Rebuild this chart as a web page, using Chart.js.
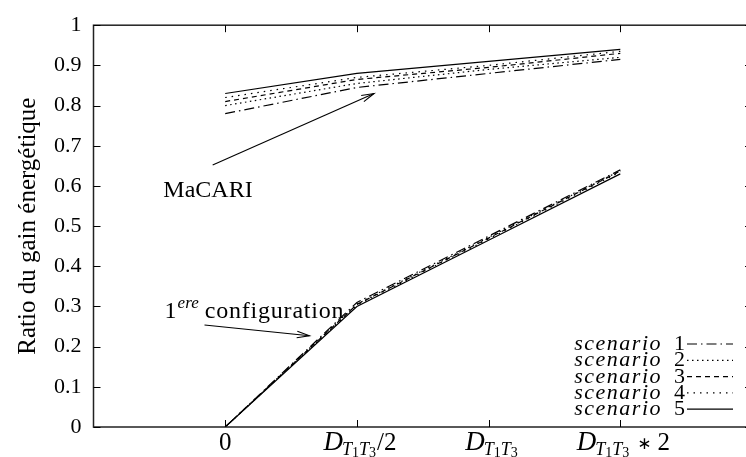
<!DOCTYPE html>
<html><head><meta charset="utf-8">
<script src="https://cdn.jsdelivr.net/npm/chart.js@4"></script>
<style>html,body{margin:0;padding:0;background:#fff;overflow:hidden}#wrap{width:760px;height:457px}</style>
</head><body><div id="wrap"><canvas id="c" width="760" height="457"></canvas></div>
<script>
// ---- data ----
const xPositions = [0, 1, 2, 3];
const xTickLabels = ['0', 'D_T1T3/2', 'D_T1T3', 'D_T1T3 * 2'];
const yTickLabels = ['0','0.1','0.2','0.3','0.4','0.5','0.6','0.7','0.8','0.9','1'];
const scenarioNames = ['scenario 1','scenario 2','scenario 3','scenario 4','scenario 5'];
// MaCARI curves
const macari1 = [0.78, 0.845, 0.880, 0.915];
const macari2 = [0.80, 0.855, 0.890, 0.920];
const macari3 = [0.81, 0.865, 0.895, 0.930];
const macari4 = [0.82, 0.870, 0.900, 0.935];
const macari5 = [0.83, 0.880, 0.910, 0.940];
// 1ere configuration curves
const config1 = [0, 0.310, 0.475, 0.640];
const config2 = [0, 0.306, 0.472, 0.638];
const config3 = [0, 0.305, 0.470, 0.637];
const config4 = [0, 0.303, 0.468, 0.635];
const config5 = [0, 0.300, 0.465, 0.630];

const dashes = [[10,4,1.5,4],[1.5,3.5],[5,4],[1.5,5],[]];
const macari = [macari1, macari2, macari3, macari4, macari5];
const config = [config1, config2, config3, config4, config5];

const FONT = 'Liberation Serif';
const toPts = arr => arr.map((v, i) => ({x: xPositions[i], y: v}));

const datasets = [];
for (let i = 0; i < 5; i++) {
  datasets.push({label: scenarioNames[i], data: toPts(macari[i]), borderColor: '#000', borderWidth: 1.2,
    borderDash: dashes[i], pointRadius: 0, fill: false, tension: 0});
}
for (let i = 0; i < 5; i++) {
  datasets.push({label: scenarioNames[i] + ' (1ere)', data: toPts(config[i]), borderColor: '#000', borderWidth: 1.2,
    borderDash: dashes[i], pointRadius: 0, fill: false, tension: 0});
}

function arrow(ctx, x1, y1, x2, y2) {
  ctx.save();
  ctx.strokeStyle = '#000'; ctx.lineWidth = 1.1; ctx.setLineDash([]);
  ctx.beginPath(); ctx.moveTo(x1, y1); ctx.lineTo(x2, y2); ctx.stroke();
  const a = Math.atan2(y2 - y1, x2 - x1), L = 13, w = 0.26;
  ctx.beginPath();
  ctx.moveTo(x2 - L * Math.cos(a - w), y2 - L * Math.sin(a - w));
  ctx.lineTo(x2, y2);
  ctx.lineTo(x2 - L * Math.cos(a + w), y2 - L * Math.sin(a + w));
  ctx.stroke();
  ctx.restore();
}

function drawDLabel(ctx, label, cx, base) {
  ctx.save();
  ctx.fillStyle = '#000'; ctx.textBaseline = 'alphabetic'; ctx.textAlign = 'left';
  if (!label.startsWith('D_T1T3')) {
    ctx.font = `25px "${FONT}"`;
    const w = ctx.measureText(label).width;
    ctx.fillText(label, cx - w / 2, base);
    ctx.restore(); return;
  }
  const rest = label.slice(6);
  const parts = [
    {t: 'D', f: `italic 27px "${FONT}"`, dy: 0, gap: 0},
    {t: 'T', f: `italic 18px "${FONT}"`, dy: 5, gap: -1},
    {t: '1', f: `14px "${FONT}"`, dy: 7, gap: 0},
    {t: 'T', f: `italic 18px "${FONT}"`, dy: 5, gap: 0},
    {t: '3', f: `14px "${FONT}"`, dy: 7, gap: 0},
  ];
  if (rest.includes('*')) {
    parts.push({t: '\u2217', f: `17px "DejaVu Sans"`, dy: -1, gap: 8});
    parts.push({t: '2', f: `25px "${FONT}"`, dy: 0, gap: 6});
  } else if (rest) {
    parts.push({t: rest, f: `25px "${FONT}"`, dy: 0, gap: 1});
  }
  let total = 0;
  parts.forEach(p => { ctx.font = p.f; p.w = ctx.measureText(p.t).width; total += p.w + p.gap; });
  let x = cx - total / 2 + 3;
  parts.forEach(p => { ctx.font = p.f; x += p.gap; ctx.fillText(p.t, x, base + p.dy); x += p.w; });
  ctx.restore();
}

const decor = {
  id: 'decor',
  afterDraw(chart) {
    const {ctx, chartArea: a, scales: {x, y}} = chart;
    ctx.save();
    // border
    ctx.strokeStyle = '#222'; ctx.lineWidth = 1.5; ctx.setLineDash([]);
    ctx.strokeRect(a.left, a.top, a.right - a.left, a.bottom - a.top);
    // inward ticks
    ctx.lineWidth = 1;
    ctx.strokeStyle = '#000';
    ctx.beginPath();
    yTickLabels.forEach((t, i) => {
      const py = Math.round(y.getPixelForValue(i / 10)) + 0.5;
      ctx.moveTo(a.left, py); ctx.lineTo(a.left + 7, py);
      ctx.moveTo(a.right, py); ctx.lineTo(a.right - 7, py);
    });
    xPositions.forEach(v => {
      const px = Math.round(x.getPixelForValue(v)) + 0.5;
      ctx.moveTo(px, a.bottom); ctx.lineTo(px, a.bottom - 7);
      ctx.moveTo(px, a.top); ctx.lineTo(px, a.top + 7);
    });
    ctx.stroke();
    // x tick labels
    xTickLabels.forEach((l, i) => drawDLabel(ctx, l, x.getPixelForValue(xPositions[i]), 450));
    // legend
    const rows = chart.data.datasets.slice(0, 5);
    rows.forEach((ds, i) => {
      const ly = 344 + i * 16.3;
      const [word, num] = ds.label.split(' ');
      ctx.fillStyle = '#000'; ctx.textBaseline = 'alphabetic';
      ctx.font = `22px "${FONT}"`; ctx.textAlign = 'left';
      ctx.fillText(num, 674, ly + 6);
      ctx.font = `italic 22px "${FONT}"`; ctx.textAlign = 'right';
      ctx.letterSpacing = '1.5px';
      ctx.fillText(word, 662, ly + 6);
      ctx.letterSpacing = '0px';
      ctx.strokeStyle = '#000'; ctx.lineWidth = 1.2;
      ctx.setLineDash(ds.borderDash);
      ctx.beginPath(); ctx.moveTo(687, ly); ctx.lineTo(733, ly); ctx.stroke();
      ctx.setLineDash([]);
    });
    // annotations
    ctx.fillStyle = '#000'; ctx.textAlign = 'left'; ctx.textBaseline = 'alphabetic';
    ctx.font = `24px "${FONT}"`;
    ctx.fillText('MaCARI', x.getPixelForValue(-0.47), y.getPixelForValue(0.573));
    arrow(ctx, x.getPixelForValue(-0.095), y.getPixelForValue(0.652), x.getPixelForValue(1.13), y.getPixelForValue(0.83));
    const bx = x.getPixelForValue(-0.46), by = y.getPixelForValue(0.272);
    ctx.font = `24px "${FONT}"`;
    ctx.fillText('1', bx, by);
    const w1 = ctx.measureText('1').width;
    ctx.font = `italic 17px "${FONT}"`;
    ctx.fillText('ere', bx + w1 + 1, by - 10);
    const w2 = ctx.measureText('ere').width;
    ctx.font = `24px "${FONT}"`;
    ctx.letterSpacing = '0.8px';
    ctx.fillText('configuration', bx + w1 + w2 + 7, by);
    ctx.letterSpacing = '0px';
    arrow(ctx, x.getPixelForValue(-0.157), y.getPixelForValue(0.254), x.getPixelForValue(0.64), y.getPixelForValue(0.227));
    ctx.restore();
  }
};

new Chart(document.getElementById('c'), {
  type: 'line',
  data: {datasets},
  options: {
    responsive: false, animation: false, devicePixelRatio: 1,
    layout: {padding: {top: 17, right: 8, left: 0, bottom: 0}},
    plugins: {legend: {display: false}, tooltip: {enabled: false}},
    scales: {
      x: {type: 'linear', min: -1, max: 4,
        ticks: {display: false}, grid: {display: false, drawTicks: false}, border: {display: false},
        afterFit: s => { s.height = 30; }},
      y: {min: 0, max: 1,
        ticks: {stepSize: 0.1, color: '#000', padding: 12, font: {family: FONT, size: 22},
          callback: (v) => yTickLabels[Math.round(v * 10)]},
        grid: {display: false, drawTicks: false}, border: {display: false},
        title: {display: true, text: 'Ratio du gain énergétique', color: '#000',
          font: {family: FONT, size: 25}, padding: {top: 13, bottom: 0}},
        afterFit: s => { s.width = 93.5; }}
    }
  },
  plugins: [decor]
});
</script></body></html>
